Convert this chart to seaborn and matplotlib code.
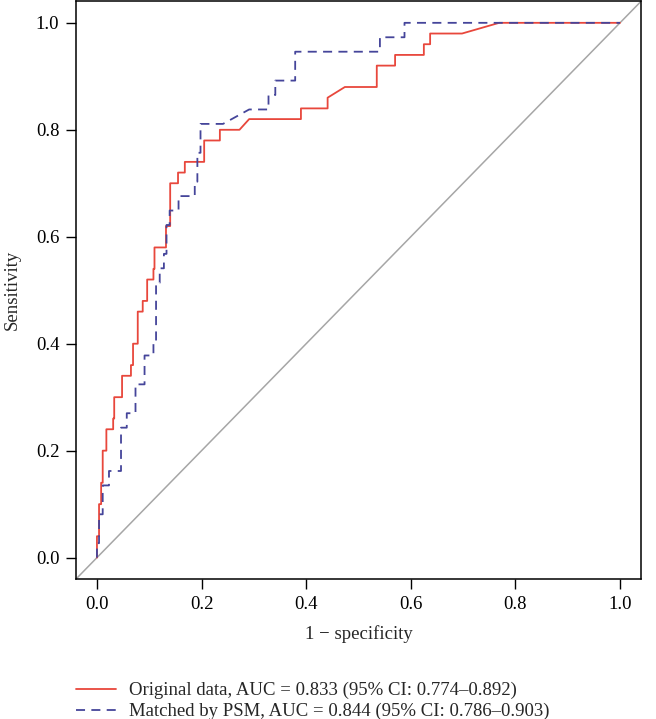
import numpy as np
import pandas as pd
import matplotlib
matplotlib.use("Agg")
import matplotlib.pyplot as plt
import seaborn as sns

# ROC curve points (1 - specificity, sensitivity)
orig_fpr = [0, 0, 0.004, 0.004, 0.008, 0.008, 0.011, 0.011, 0.018, 0.018,
            0.031, 0.031, 0.033, 0.033, 0.048, 0.048, 0.065, 0.065, 0.069, 0.069,
            0.078, 0.078, 0.0875, 0.0875, 0.096, 0.096, 0.108, 0.108, 0.110, 0.110,
            0.132, 0.132, 0.140, 0.140, 0.155, 0.155, 0.168, 0.168, 0.205, 0.205,
            0.235, 0.235, 0.2725, 0.291, 0.390, 0.390, 0.441, 0.441, 0.474, 0.535,
            0.535, 0.570, 0.570, 0.625, 0.625, 0.637, 0.637, 0.698, 0.769, 1.0]
orig_tpr = [0, 0.04, 0.04, 0.10, 0.10, 0.14, 0.14, 0.20, 0.20, 0.24,
            0.24, 0.26, 0.26, 0.30, 0.30, 0.34, 0.34, 0.36, 0.36, 0.40,
            0.40, 0.46, 0.46, 0.48, 0.48, 0.52, 0.52, 0.54, 0.54, 0.58,
            0.58, 0.62, 0.62, 0.70, 0.70, 0.72, 0.72, 0.74, 0.74, 0.78,
            0.78, 0.80, 0.80, 0.82, 0.82, 0.84, 0.84, 0.86, 0.88, 0.88,
            0.92, 0.92, 0.94, 0.94, 0.96, 0.96, 0.98, 0.98, 1.0, 1.0]

psm_fpr = [0, 0, 0.004, 0.004, 0.011, 0.011, 0.023, 0.023, 0.046, 0.046,
           0.057, 0.057, 0.0737, 0.0737, 0.091, 0.091, 0.108, 0.108, 0.113, 0.113,
           0.120, 0.120, 0.128, 0.128, 0.133, 0.133, 0.139, 0.139, 0.156, 0.156,
           0.187, 0.187, 0.192, 0.192, 0.198, 0.198, 0.241, 0.291, 0.328, 0.328,
           0.341, 0.341, 0.379, 0.379, 0.541, 0.541, 0.588, 0.588, 1.0]
psm_tpr = [0, 0.027, 0.027, 0.081, 0.081, 0.135, 0.135, 0.162, 0.162, 0.243,
           0.243, 0.270, 0.270, 0.324, 0.324, 0.378, 0.378, 0.405, 0.405, 0.514,
           0.514, 0.541, 0.541, 0.568, 0.568, 0.622, 0.622, 0.649, 0.649, 0.676,
           0.676, 0.703, 0.703, 0.757, 0.757, 0.811, 0.811, 0.838, 0.838, 0.865,
           0.865, 0.892, 0.892, 0.946, 0.946, 0.973, 0.973, 1.0, 1.0]

labels = ["Original data, AUC = 0.833 (95% CI: 0.774\u20130.892)",
          "Matched by PSM, AUC = 0.844 (95% CI: 0.786\u20130.903)"]
ticks = [0.0, 0.2, 0.4, 0.6, 0.8, 1.0]

sns.set_style("ticks")
plt.rcParams["font.family"] = ["Liberation Serif", "DejaVu Serif"]
plt.rcParams["font.size"] = 13.5

df_orig = pd.DataFrame({"fpr": orig_fpr, "tpr": orig_tpr})
df_psm = pd.DataFrame({"fpr": psm_fpr, "tpr": psm_tpr})

fig = plt.figure(figsize=(6.56, 7.19), dpi=100)
ax = fig.add_axes([0.1159, 0.1947, 0.977 - 0.1159, 0.998 - 0.1947])

# reference diagonal
ax.axline((0, 0), (1, 1), color="#a6a6a6", lw=1.1, zorder=1)
sns.lineplot(data=df_orig, x="fpr", y="tpr", sort=False, estimator=None,
             color="#e8473c", lw=1.3, ax=ax, label=labels[0], zorder=3)
sns.lineplot(data=df_psm, x="fpr", y="tpr", sort=False, estimator=None,
             color="#45459a", lw=1.3, dashes=(5, 3.5), ax=ax, label=labels[1],
             zorder=4)

ax.set_xlim(-0.04, 1.04)
ax.set_ylim(-0.04, 1.04)
ax.set_xticks(ticks)
ax.set_yticks(ticks)
ax.set_xticklabels([f"{t:.1f}" for t in ticks])
ax.set_yticklabels([f"{t:.1f}" for t in ticks])
ax.tick_params(direction="out", length=7, width=1.0, labelsize=13.5, pad=5,
               colors="black")
for s in ax.spines.values():
    s.set_visible(True)
    s.set_linewidth(1.1)
    s.set_color("black")

ax.set_xlabel("1 \u2212 specificity", fontsize=13.5, labelpad=9)
ax.set_ylabel("Sensitivity", fontsize=13.5, labelpad=11)

handles, labs = ax.get_legend_handles_labels()
ax.get_legend().remove()
fig.legend(handles, labs, loc="upper left", bbox_to_anchor=(0.105, 0.062),
           frameon=False, fontsize=13.5, handlelength=2.1, handletextpad=0.7,
           labelspacing=0.2, borderaxespad=0)

fig.savefig("out.png", dpi=100)
